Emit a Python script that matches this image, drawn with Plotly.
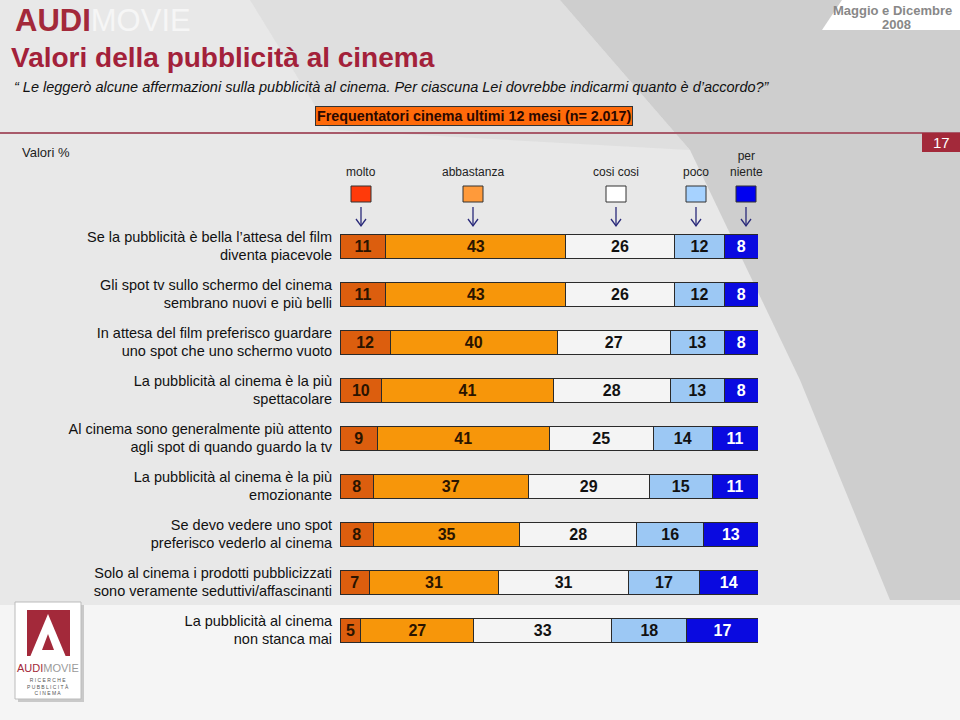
import plotly.graph_objects as go

categories = [
    "Se la pubblicità è bella l’attesa del film<br>diventa piacevole",
    "Gli spot tv sullo schermo del cinema<br>sembrano nuovi e più belli",
    "In attesa del film preferisco guardare<br>uno spot che uno schermo vuoto",
    "La pubblicità al cinema è la più<br>spettacolare",
    "Al cinema sono generalmente più attento<br>agli spot di quando guardo la tv",
    "La pubblicità al cinema è la più<br>emozionante",
    "Se devo vedere uno spot<br>preferisco vederlo al cinema",
    "Solo al cinema i prodotti pubblicizzati<br>sono veramente seduttivi/affascinanti",
    "La pubblicità al cinema<br>non stanca mai",
]
molto = [11, 11, 12, 10, 9, 8, 8, 7, 5]
abbastanza = [43, 43, 40, 41, 41, 37, 35, 31, 27]
cosi_cosi = [26, 26, 27, 28, 25, 29, 28, 31, 33]
poco = [12, 12, 13, 13, 14, 15, 16, 17, 18]
per_niente = [8, 8, 8, 8, 11, 11, 13, 14, 17]

series_names = ["molto", "abbastanza", "cosi cosi", "poco", "per<br>niente"]
series_values = [molto, abbastanza, cosi_cosi, poco, per_niente]
bar_colors = ["#dc5e0e", "#f7960a", "#f4f4f4", "#9cc8f4", "#0a0ae0"]
text_colors = ["#2a1400", "#2a1400", "#111111", "#111111", "#ffffff"]
legend_colors = ["#ff3a0a", "#ff9a3a", "#ffffff", "#a6d2ff", "#0000f0"]
legend_px = [361, 473, 616, 696, 746]

W, H = 960, 720
L, R, T, B = 340, 202, 222, 66
PW, PH = W - L - R, H - T - B


def fx(px):
    return (px - L) / PW


def fy(py):
    return (H - B - py) / PH


FONT = "Liberation Sans, Arial, sans-serif"

fig = go.Figure()
for name, vals, col, tcol in zip(series_names, series_values, bar_colors, text_colors):
    fig.add_trace(go.Bar(
        y=categories, x=vals, orientation="h", name=name.replace("<br>", " "),
        marker=dict(color=col, line=dict(color="#2a2a2a", width=1)),
        text=["<b>%d</b>" % v for v in vals], textposition="inside",
        insidetextanchor="middle", textangle=0, constraintext="none",
        textfont=dict(color=tcol, size=16, family=FONT),
        hoverinfo="x+y",
    ))

shapes = []
annotations = []

# background decoration
shapes.append(dict(type="path", xref="paper", yref="paper", layer="below",
                   path="M {} {} L {} {} L {} {} L {} {} L {} {} L {} {} Z".format(
                       fx(560), fy(0), fx(960), fy(0), fx(960), fy(600),
                       fx(890), fy(600), fx(800), fy(380), fx(690), fy(150)),
                   fillcolor="rgba(175,175,175,0.45)", line=dict(width=0)))
shapes.append(dict(type="path", xref="paper", yref="paper", layer="below",
                   path="M {} {} L {} {} L {} {} L {} {} Z".format(
                       fx(250), fy(0), fx(560), fy(0), fx(690), fy(150), fx(330), fy(130)),
                   fillcolor="rgba(205,205,205,0.35)", line=dict(width=0)))
shapes.append(dict(type="rect", xref="paper", yref="paper", layer="below",
                   x0=fx(0), x1=fx(960), y0=fy(720), y1=fy(605),
                   fillcolor="rgba(250,250,250,0.75)", line=dict(width=0)))
# top right white tab
shapes.append(dict(type="path", xref="paper", yref="paper", layer="below",
                   path="M {} {} L {} {} L {} {} L {} {} Z".format(
                       fx(842), fy(0), fx(960), fy(0), fx(960), fy(30), fx(822), fy(30)),
                   fillcolor="#ffffff", line=dict(width=0)))
# header rule
shapes.append(dict(type="line", xref="paper", yref="paper",
                   x0=fx(0), x1=fx(960), y0=fy(133), y1=fy(133),
                   line=dict(color="#a85a6a", width=2)))
# page number box
shapes.append(dict(type="rect", xref="paper", yref="paper",
                   x0=fx(922), x1=fx(960), y0=fy(152), y1=fy(133),
                   fillcolor="#a3293a", line=dict(width=0)))

# legend boxes + arrows
for i, (nm, col, px) in enumerate(zip(series_names, legend_colors, legend_px)):
    shapes.append(dict(type="rect", xref="paper", yref="paper",
                       x0=fx(px - 10), x1=fx(px + 10), y0=fy(202), y1=fy(186),
                       fillcolor=col, line=dict(color="#333333", width=1)))
    shapes.append(dict(type="line", xref="paper", yref="paper",
                       x0=fx(px), x1=fx(px), y0=fy(207), y1=fy(226),
                       line=dict(color="#2a2a7a", width=1.3)))
    shapes.append(dict(type="path", xref="paper", yref="paper",
                       path="M {} {} L {} {} L {} {}".format(
                           fx(px - 5), fy(219), fx(px), fy(226), fx(px + 5), fy(219)),
                       line=dict(color="#2a2a7a", width=1.3)))
    annotations.append(dict(xref="paper", yref="paper", x=fx(px), y=fy(181),
                            xanchor="center", yanchor="bottom", showarrow=False,
                            text=nm, align="center",
                            font=dict(size=12, color="#222222", family=FONT)))

# logo bottom-left
shapes.append(dict(type="rect", xref="paper", yref="paper",
                   x0=fx(18), x1=fx(84), y0=fy(702), y1=fy(605),
                   fillcolor="rgba(120,120,120,0.35)", line=dict(width=0)))
shapes.append(dict(type="rect", xref="paper", yref="paper",
                   x0=fx(15), x1=fx(81), y0=fy(699), y1=fy(602),
                   fillcolor="#ffffff", line=dict(color="#bbbbbb", width=1)))
shapes.append(dict(type="rect", xref="paper", yref="paper",
                   x0=fx(27), x1=fx(70), y0=fy(656), y1=fy(610),
                   fillcolor="#a3293a", line=dict(width=0)))
shapes.append(dict(type="path", xref="paper", yref="paper",
                   path="M {} {} L {} {} L {} {} Z".format(
                       fx(30), fy(657), fx(48), fy(614), fx(66), fy(657)),
                   fillcolor="#ffffff", line=dict(width=0)))
shapes.append(dict(type="path", xref="paper", yref="paper",
                   path="M {} {} L {} {} L {} {} Z".format(
                       fx(42), fy(650), fx(48), fy(634), fx(54), fy(650)),
                   fillcolor="#a3293a", line=dict(width=0)))
annotations.append(dict(xref="paper", yref="paper", x=fx(48), y=fy(668),
                        xanchor="center", yanchor="middle", showarrow=False,
                        text="<span style='color:#a3293a'>AUDI</span>MOVIE",
                        font=dict(size=11, color="#9a9a9a", family=FONT)))
annotations.append(dict(xref="paper", yref="paper", x=fx(48), y=fy(686),
                        xanchor="center", yanchor="middle", showarrow=False,
                        text="R I C E R C H E<br>P U B B L I C I T À<br>C I N E M A",
                        font=dict(size=5, color="#555555", family=FONT)))

# header texts
annotations += [
    dict(xref="paper", yref="paper", x=fx(13), y=fy(20), xanchor="left", yanchor="middle",
         showarrow=False,
         text="<b><span style='color:#a3293a'>AUDI</span></b><span style='color:#f6f6f6'>MOVIE</span>",
         font=dict(size=31, family=FONT)),
    dict(xref="paper", yref="paper", x=fx(9), y=fy(57), xanchor="left", yanchor="middle",
         showarrow=False, text="<b>Valori della pubblicità al cinema</b>",
         font=dict(size=28, color="#a3213a", family=FONT)),
    dict(xref="paper", yref="paper", x=fx(12), y=fy(87), xanchor="left", yanchor="middle",
         showarrow=False,
         text="<i>“ Le leggerò alcune affermazioni sulla pubblicità al cinema. Per ciascuna Lei dovrebbe indicarmi quanto è d’accordo?”</i>",
         font=dict(size=14.5, color="#111111", family=FONT)),
    dict(xref="paper", yref="paper", x=fx(474), y=fy(116), xanchor="center", yanchor="middle",
         showarrow=False, text="<b>Frequentatori cinema ultimi 12 mesi (n= 2.017)</b>",
         bgcolor="#ff6a0a", bordercolor="#333333", borderwidth=1, borderpad=1,
         font=dict(size=14.3, color="#2a0800", family=FONT)),
    dict(xref="paper", yref="paper", x=fx(954), y=fy(10), xanchor="right", yanchor="middle",
         showarrow=False, text="<b>Maggio e Dicembre</b>",
         font=dict(size=13, color="#888888", family=FONT)),
    dict(xref="paper", yref="paper", x=fx(896), y=fy(24), xanchor="center", yanchor="middle",
         showarrow=False, text="<b>2008</b>",
         font=dict(size=13, color="#888888", family=FONT)),
    dict(xref="paper", yref="paper", x=fx(941), y=fy(142), xanchor="center", yanchor="middle",
         showarrow=False, text="17",
         font=dict(size=15, color="#ffffff", family=FONT)),
    dict(xref="paper", yref="paper", x=fx(20), y=fy(152), xanchor="left", yanchor="middle",
         showarrow=False, text="Valori %",
         font=dict(size=13, color="#222222", family=FONT)),
]

fig.update_layout(
    width=W, height=H, barmode="stack", bargap=0.5,
    margin=dict(l=L, r=R, t=T, b=B, autoexpand=False),
    paper_bgcolor="#e8e8e8", plot_bgcolor="rgba(0,0,0,0)",
    showlegend=False, shapes=shapes, annotations=annotations,
    font=dict(family=FONT),
    xaxis=dict(range=[0, 100], visible=False, fixedrange=True),
    yaxis=dict(autorange="reversed", showgrid=False, zeroline=False, showline=False,
               ticks="outside", ticklen=4, tickcolor="rgba(0,0,0,0)",
               tickfont=dict(size=14.5, color="#111111", family=FONT)),
)

fig.write_html("out.html", config={"displayModeBar": False},
               post_script="document.body.style.margin='0';document.body.style.padding='0';")
